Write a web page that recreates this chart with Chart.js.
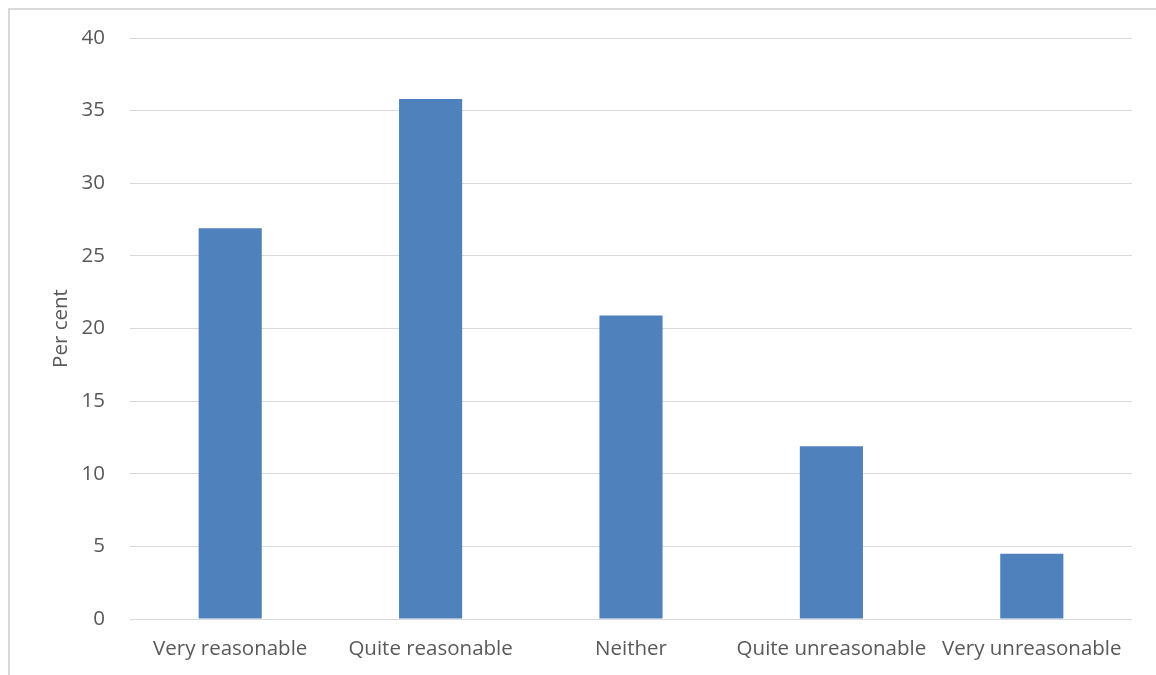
<!DOCTYPE html>
<html>
<head>
<meta charset="utf-8">
<script src="https://cdn.jsdelivr.net/npm/chart.js@4/dist/chart.umd.min.js"></script>
<style>
  html, body { margin: 0; padding: 0; background: #ffffff; overflow: hidden; }
  #frame {
    position: absolute; left: 8px; top: 8px; width: 1160px; height: 680px;
    border-left: 2px solid #d9d9d9; border-top: 2px solid #d9d9d9;
  }
  #wrap { position: absolute; left: 0; top: 0; width: 1156px; height: 675px; }
</style>
</head>
<body>
<div id="frame"></div>
<div id="wrap"><canvas id="chart"></canvas></div>
<script>
// ============================================================
// DATI
// ============================================================
const categories = ["Very reasonable", "Quite reasonable", "Neither", "Quite unreasonable", "Very unreasonable"];
const perCent = [26.9, 35.8, 20.9, 11.9, 4.5];
const yTicks = [0, 5, 10, 15, 20, 25, 30, 35, 40];

const FONT = "'Open Sans', 'DejaVu Sans', sans-serif";
const TEXT_COLOR = "#595959";
const GRID_COLOR = "#d9d9d9";

// ============================================================
// GRAFICO
// ============================================================
const ctx = document.getElementById("chart").getContext("2d");

new Chart(ctx, {
  type: "bar",
  data: {
    labels: categories,
    datasets: [
      {
        label: "Per cent",
        data: perCent,
        backgroundColor: "#4f81bd",
        borderWidth: 0,
        categoryPercentage: 1,
        barPercentage: 0.315
      }
    ]
  },
  options: {
    responsive: true,
    maintainAspectRatio: false,
    animation: false,
    layout: { padding: { left: 0, right: 24, top: 38, bottom: 0 } },
    plugins: {
      legend: { display: false },
      tooltip: { enabled: false }
    },
    scales: {
      x: {
        grid: { display: false, drawTicks: false },
        border: { display: false },
        ticks: {
          color: TEXT_COLOR,
          font: { family: FONT, size: 20.5 },
          padding: 18,
          maxRotation: 0,
          autoSkip: false
        },
        afterFit: scale => { scale.height = 56; }
      },
      y: {
        min: 0,
        max: 40,
        afterBuildTicks: scale => { scale.ticks = yTicks.map(v => ({ value: v })); },
        grid: { color: GRID_COLOR, lineWidth: 1, drawTicks: false },
        border: { display: false },
        ticks: {
          color: TEXT_COLOR,
          font: { family: FONT, size: 20.5 },
          padding: 25
        },
        title: {
          display: true,
          text: "Per cent",
          color: TEXT_COLOR,
          font: { family: FONT, size: 20.5 },
          padding: { top: 49, bottom: 0 }
        },
        afterFit: scale => { scale.width = 130; }
      }
    }
  }
});
</script>
</body>
</html>
